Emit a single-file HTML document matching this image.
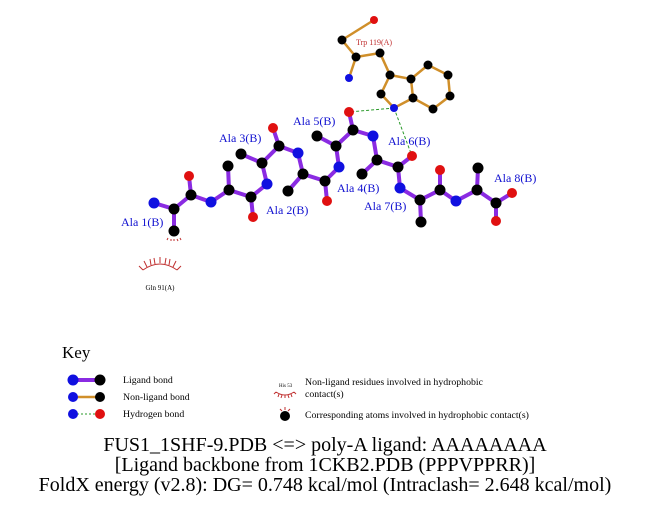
<!DOCTYPE html>
<html><head><meta charset="utf-8"><style>
html,body{margin:0;padding:0;background:#fff;}
svg{display:block;}
text{font-family:"Liberation Serif",serif;}
</style></head><body>
<svg width="651" height="511" viewBox="0 0 651 511" xmlns="http://www.w3.org/2000/svg">
<g stroke="#d08f2a" stroke-width="2.5" fill="none">
<polyline points="374,20 342,40 356,57 349,78"/>
<polyline points="356,57 380,53 390,75 381,94 394,108 413,98 411,79 390,75"/>
<polyline points="411,79 428,65 448,75 450,96 433,109 413,98"/>
</g>
<g stroke="#2a9a2a" stroke-width="1" stroke-dasharray="3,2">
<line x1="394" y1="108" x2="349" y2="112"/>
<line x1="394" y1="108" x2="412" y2="156"/>
</g>
<g stroke="#8a2be2" stroke-width="4" fill="none" stroke-linecap="round">
<polyline points="154,203 174,209 191,195 211,202 229,190 251,197 267,184 262,163 279,146 298,153 303,174 325,181 339,167 336,146 353,130 373,136 377,160 398,167 400,188 420,200 440,190 456,201 477,190 496,203 512,193"/>
<line x1="174" y1="209" x2="174" y2="231"/>
<line x1="191" y1="195" x2="189" y2="176"/>
<line x1="229" y1="190" x2="228" y2="166"/>
<line x1="251" y1="197" x2="253" y2="217"/>
<line x1="262" y1="163" x2="241" y2="154"/>
<line x1="279" y1="146" x2="273" y2="128"/>
<line x1="303" y1="174" x2="288" y2="191"/>
<line x1="325" y1="181" x2="327" y2="201"/>
<line x1="336" y1="146" x2="317" y2="136"/>
<line x1="353" y1="130" x2="349" y2="112"/>
<line x1="377" y1="160" x2="362" y2="174"/>
<line x1="398" y1="167" x2="412" y2="156"/>
<line x1="420" y1="200" x2="421" y2="222"/>
<line x1="440" y1="190" x2="440" y2="170"/>
<line x1="477" y1="190" x2="478" y2="168"/>
<line x1="496" y1="203" x2="496" y2="221"/>
</g>
<g fill="#000">
<circle cx="342" cy="40" r="4.5"/><circle cx="356" cy="57" r="4.5"/><circle cx="380" cy="53" r="4.5"/>
<circle cx="390" cy="75" r="4.5"/><circle cx="381" cy="94" r="4.5"/><circle cx="413" cy="98" r="4.5"/>
<circle cx="411" cy="79" r="4.5"/><circle cx="428" cy="65" r="4.5"/><circle cx="448" cy="75" r="4.5"/>
<circle cx="450" cy="96" r="4.5"/><circle cx="433" cy="109" r="4.5"/>
<circle cx="174" cy="209" r="5.5"/><circle cx="174" cy="231" r="5.5"/><circle cx="191" cy="195" r="5.5"/>
<circle cx="229" cy="190" r="5.5"/><circle cx="228" cy="166" r="5.5"/><circle cx="251" cy="197" r="5.5"/>
<circle cx="262" cy="163" r="5.5"/><circle cx="241" cy="154" r="5.5"/><circle cx="279" cy="146" r="5.5"/>
<circle cx="303" cy="174" r="5.5"/><circle cx="288" cy="191" r="5.5"/><circle cx="325" cy="181" r="5.5"/>
<circle cx="336" cy="146" r="5.5"/><circle cx="317" cy="136" r="5.5"/><circle cx="353" cy="130" r="5.5"/>
<circle cx="377" cy="160" r="5.5"/><circle cx="362" cy="174" r="5.5"/><circle cx="398" cy="167" r="5.5"/>
<circle cx="420" cy="200" r="5.5"/><circle cx="421" cy="222" r="5.5"/><circle cx="440" cy="190" r="5.5"/>
<circle cx="477" cy="190" r="5.5"/><circle cx="478" cy="168" r="5.5"/><circle cx="496" cy="203" r="5.5"/>
</g>
<g fill="#1010e0">
<circle cx="349" cy="78" r="4"/><circle cx="394" cy="108" r="4"/>
<circle cx="154" cy="203" r="5.5"/><circle cx="211" cy="202" r="5.5"/><circle cx="267" cy="184" r="5.5"/>
<circle cx="298" cy="153" r="5.5"/><circle cx="339" cy="167" r="5.5"/><circle cx="373" cy="136" r="5.5"/>
<circle cx="400" cy="188" r="5.5"/><circle cx="456" cy="201" r="5.5"/>
</g>
<g fill="#e01010">
<circle cx="374" cy="20" r="4"/>
<circle cx="189" cy="176" r="5"/><circle cx="253" cy="217" r="5"/><circle cx="273" cy="128" r="5"/>
<circle cx="327" cy="201" r="5"/><circle cx="349" cy="112" r="5"/><circle cx="412" cy="156" r="5"/>
<circle cx="440" cy="170" r="5"/><circle cx="512" cy="193" r="5"/><circle cx="496" cy="221" r="5"/>
</g>
<g stroke="#c03030" stroke-width="1" fill="none">
<path d="M168,238 l-1,2 M171,239 l0,2 M174,239 l0,2 M177,239 l1,2 M180,238 l1,2"/>
<path d="M143,270 Q160,258 177,270"/>
<path d="M143,270 l-4,-4 M147,267 l-3,-6 M151,265 l-1,-6 M155,264 l-1,-6 M160,263 l0,-6 M165,264 l1,-6 M169,265 l1,-6 M173,267 l3,-6 M177,270 l4,-4"/>
</g>
<text x="160" y="290" font-size="7" text-anchor="middle" fill="#000">Gln 91(A)</text>
<text x="356" y="45" font-size="8" fill="#c03030">Trp 119(A)</text>
<g font-size="12" fill="#1010d0">
<text x="121" y="226">Ala 1(B)</text>
<text x="266" y="214">Ala 2(B)</text>
<text x="219" y="142">Ala 3(B)</text>
<text x="337" y="192">Ala 4(B)</text>
<text x="293" y="125">Ala 5(B)</text>
<text x="388" y="145">Ala 6(B)</text>
<text x="364" y="210">Ala 7(B)</text>
<text x="494" y="182">Ala 8(B)</text>
</g>
<text x="62" y="358" font-size="17">Key</text>
<line x1="73" y1="380" x2="100" y2="380" stroke="#8a2be2" stroke-width="4"/>
<circle cx="73" cy="380" r="5.5" fill="#1010e0"/><circle cx="100" cy="380" r="5.5" fill="#000"/>
<line x1="73" y1="397" x2="100" y2="397" stroke="#d08f2a" stroke-width="2.5"/>
<circle cx="73" cy="397" r="5" fill="#1010e0"/><circle cx="100" cy="397" r="5" fill="#000"/>
<line x1="73" y1="414" x2="100" y2="414" stroke="#2a9a2a" stroke-width="1" stroke-dasharray="2,2"/>
<circle cx="73" cy="414" r="5" fill="#1010e0"/><circle cx="100" cy="414" r="5" fill="#e01010"/>
<g font-size="9.8" fill="#000">
<text x="123" y="383">Ligand bond</text>
<text x="123" y="400">Non-ligand bond</text>
<text x="123" y="417">Hydrogen bond</text>
<text x="305" y="385">Non-ligand residues involved in hydrophobic</text>
<text x="305" y="397">contact(s)</text>
<text x="305" y="418">Corresponding atoms involved in hydrophobic contact(s)</text>
</g>
<text x="279" y="387" font-size="5">His 53</text>
<g stroke="#c03030" stroke-width="1" fill="none">
<path d="M276,392 Q285,398 294,392 M276,392 l-2,2 M279,394 l-1,3 M282,395 l-1,3 M285,395 l0,3 M288,395 l1,3 M291,394 l1,3 M294,392 l2,2"/>
<path d="M282,411 l-2,-2 M285,410 l0,-3 M288,411 l2,-2"/>
</g>
<circle cx="285" cy="416" r="5" fill="#000"/>
<g font-size="20" fill="#000" text-anchor="middle">
<text x="325" y="451">FUS1_1SHF-9.PDB &lt;=&gt; poly-A ligand: AAAAAAAA</text>
<text x="325" y="471">[Ligand backbone from 1CKB2.PDB (PPPVPPRR)]</text>
<text x="325" y="491">FoldX energy (v2.8): DG= 0.748 kcal/mol (Intraclash= 2.648 kcal/mol)</text>
</g>
</svg>
</body></html>
